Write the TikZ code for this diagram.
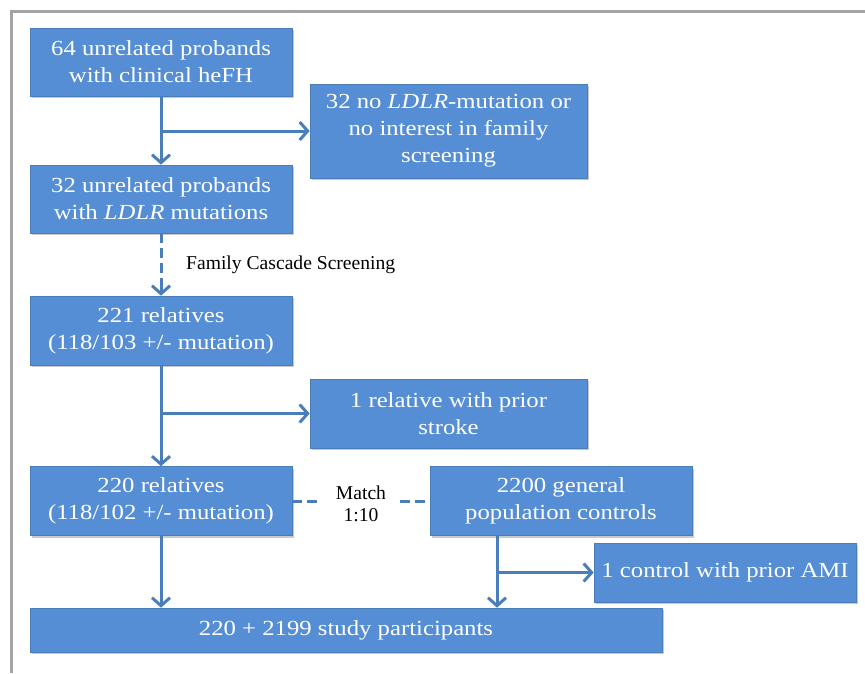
\documentclass[tikz,border=0pt]{standalone}
\usepackage{fontspec}
\setmainfont{Liberation Serif}[FakeStretch=1.15]
\newfontfamily\lblfont{Liberation Serif}
\usetikzlibrary{arrows.meta,shadows}
\definecolor{boxblue}{HTML}{558ED5}
\definecolor{boxedge}{HTML}{4A7EBB}
\definecolor{linkblue}{HTML}{4A7EBB}
\definecolor{framegray}{HTML}{A3A3A3}
\begin{document}
\begin{tikzpicture}[x=1pt,y=-1pt,
  fbox/.style={draw=boxedge, line width=0.6pt, fill=boxblue, text=white,
    align=center, inner sep=0pt, font=\fontsize{21.5}{27}\selectfont,
    drop shadow={shadow xshift=1.5pt, shadow yshift=-2pt, opacity=0.3, fill=black!70}},
  link/.style={draw=linkblue, line width=3pt, -{Straight Barb[length=8pt,width=18pt]}},
  dlink/.style={draw=linkblue, line width=3pt, dash pattern=on 10pt off 5pt},
  lbl/.style={inner sep=0pt, font=\lblfont\fontsize{19.6}{22}\selectfont, text=black}]
\useasboundingbox (0,0) rectangle (865,673);
% frame
\draw[framegray, line width=3pt] (11,673) -- (11,11) -- (865,11);
% boxes
\node[fbox, minimum width=262pt, minimum height=68pt] (b1) at (161,62)
  {64 unrelated probands\\with clinical heFH};
\node[fbox, minimum width=277pt, minimum height=94pt] (b2) at (448.5,131)
  {32 no \textit{LDLR}-mutation or\\no interest in family\\screening};
\node[fbox, minimum width=262pt, minimum height=68pt] (b3) at (161,199)
  {32 unrelated probands\\with \textit{LDLR} mutations};
\node[fbox, minimum width=262pt, minimum height=69pt] (b4) at (161,330.5)
  {221 relatives\\(118/103 +/- mutation)};
\node[fbox, minimum width=277pt, minimum height=69pt] (b5) at (448.5,413.5)
  {1 relative with prior\\stroke};
\node[fbox, minimum width=262pt, minimum height=69pt] (b6) at (161,501)
  {220 relatives\\(118/102 +/- mutation)};
\node[fbox, minimum width=262pt, minimum height=69pt] (b7) at (561,501)
  {2200 general\\population controls};
\node[fbox, minimum width=262pt, minimum height=59pt] (b8) at (725,572.5)
  {1 control with prior AMI};
\node[fbox, minimum width=632pt, minimum height=44pt] (b9) at (346,630)
  {220 + 2199 study participants};
% labels
\node[lbl, anchor=west] (fcs) at (186,264.5) {Family Cascade Screening};
\node[lbl, align=center, inner xsep=14pt] (match) at (361,504) {Match\\1:10};
% junctions
\coordinate (j1) at (161,131);
\coordinate (j2) at (161,413.5);
\coordinate (j3) at (497,572.5);
\coordinate (dend) at (161,282);
% connectors
\draw[link] (b1.south) -- (b3.north);
\draw[link] (j1) -- (b2.west);
\draw[dlink] (b3.south) -- (dend);
\draw[link] (dend) -- (b4.north);
\draw[link] (b4.south) -- (b6.north);
\draw[link] (j2) -- (b5.west);
\draw[link] (b6.south) -- (b9.north -| b6.south);
\draw[dlink] (b6.east) -- (b6.east -| match.west);
\draw[dlink] (match.east |- b7.west) -- (b7.west);
\draw[link] (b7.south -| j3) -- (b9.north -| j3);
\draw[link] (j3) -- (b8.west);
\end{tikzpicture}
\end{document}
